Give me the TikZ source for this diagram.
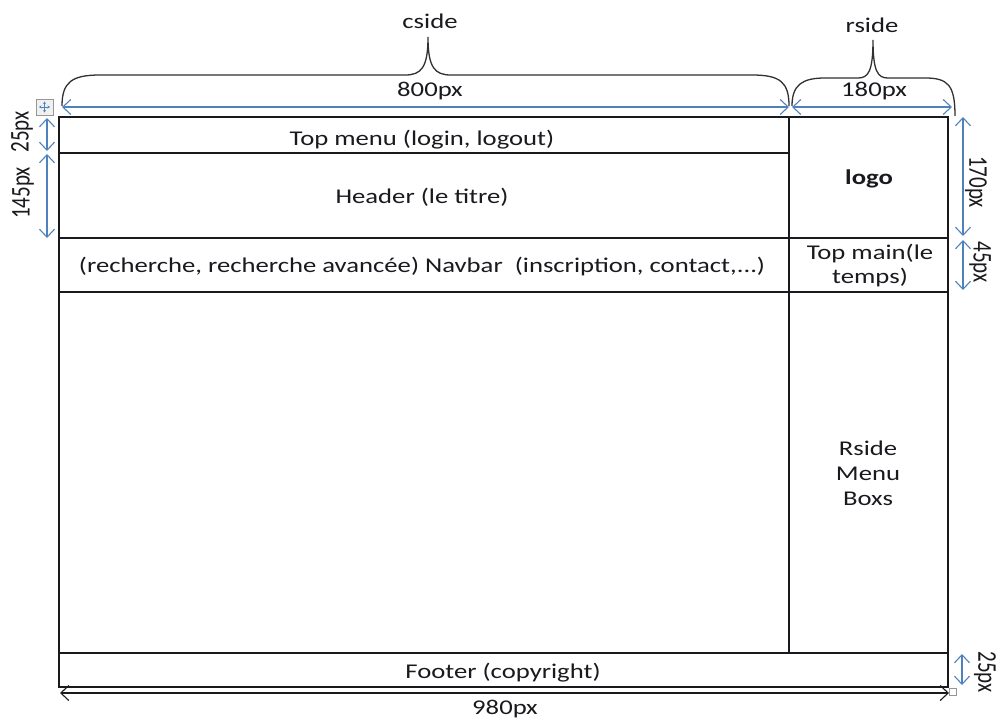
\documentclass[tikz,border=0pt]{standalone}
\usepackage{fontspec}
\setmainfont{Carlito}[FakeStretch=1.27]
\newfontfamily\sidefont{Carlito}[FakeStretch=0.78]
\usetikzlibrary{arrows.meta}
\definecolor{dimblue}{RGB}{79,129,189}
\definecolor{ink}{RGB}{25,25,30}
\definecolor{handle}{RGB}{150,150,150}
\tikzset{
  frame/.style={draw=ink, line width=1.3pt},
  dimline/.style={draw=dimblue, line width=1.1pt, {Straight Barb[length=8pt,width=15pt]}-{Straight Barb[length=8pt,width=15pt]}},
  blackdim/.style={draw=ink, line width=1.1pt, {Straight Barb[length=8pt,width=15pt]}-{Straight Barb[length=8pt,width=15pt]}},
  brace/.style={draw=ink!90, line width=1.3pt},
  lbl/.style={font=\fontsize{21}{24}\selectfont, text=ink, inner sep=0pt, anchor=base},
  sidelbl/.style={font=\sidefont\fontsize{27}{27}\selectfont, text=ink, inner sep=0pt},
}
\begin{document}
\begin{tikzpicture}[x=1pt,y=-1pt]
\useasboundingbox (0,0) rectangle (1001,720);

% layout frame
\draw[frame] (59,117) rectangle (948,687);
\draw[frame] (789,117) -- (789,653);
\draw[frame] (59,153) -- (789,153);
\draw[frame] (59,238) -- (948,238);
\draw[frame] (59,292) -- (948,292);
\draw[frame] (59,653) -- (948,653);

% region labels (multi-line nodes sit on the baseline of their last line)
\node[lbl] (topmenu) at (422,145) {Top menu (login, logout)};
\node[lbl] (header) at (422,203) {Header (le titre)};
\node[lbl] (navbar) at (422,272) {(recherche, recherche avancée) Navbar\ \ (inscription, contact,...)};
\node[lbl, font=\fontsize{21}{24}\selectfont\bfseries] (logo) at (869,184) {logo};
\node[lbl, align=center, font=\fontsize{21}{24}\selectfont] (topmain) at (870,283) {Top main(le\\temps)};
\node[lbl, align=center, font=\fontsize{21}{25}\selectfont] (rside) at (868,505) {Rside\\Menu\\Boxs};
\node[lbl] (footer) at (503,678) {Footer (copyright)};

% braces over the columns
\draw[brace] (62,106) .. controls (62,82) and (72,75) .. (100,75) -- (405,75)
  .. controls (421,75) and (428,68) .. (428,37)
  .. controls (428,68) and (435,75) .. (451,75) -- (752,75)
  .. controls (780,75) and (789,82) .. (789,106);
\draw[brace] (792,106) .. controls (792,85) and (802,78) .. (825,78) -- (858,78)
  .. controls (868,78) and (873,72) .. (873,40)
  .. controls (873,72) and (878,78) .. (888,78) -- (925,78)
  .. controls (948,78) and (955,85) .. (955,116);
\node[lbl] (cside) at (430,28) {cside};
\node[lbl] (rsidelbl) at (872,32) {rside};

% column widths
\coordinate (w1a) at (62,107);
\coordinate (w1b) at (789,107);
\coordinate (w2a) at (792,107);
\coordinate (w2b) at (952,107);
\draw[dimline] (w1a) -- (w1b);
\draw[dimline] (w2a) -- (w2b);
\node[lbl] (w800) at (430,96) {800px};
\node[lbl] (w180) at (874,96) {180px};

% row heights, left
\coordinate (h1a) at (47,118);
\coordinate (h1b) at (47,151);
\coordinate (h2a) at (47,154);
\coordinate (h2b) at (47,238);
\draw[dimline] (h1a) -- (h1b);
\draw[dimline] (h2a) -- (h2b);
\node[sidelbl, rotate=90] (h25) at (22,132) {25px};
\node[sidelbl, rotate=90] (h145) at (23,193) {145px};

% row heights, right
\coordinate (r1a) at (963,117);
\coordinate (r1b) at (963,236);
\coordinate (r2a) at (963,240);
\coordinate (r2b) at (963,290);
\coordinate (r3a) at (962,654);
\coordinate (r3b) at (962,685);
\draw[dimline] (r1a) -- (r1b);
\draw[dimline] (r2a) -- (r2b);
\draw[dimline] (r3a) -- (r3b);
\node[sidelbl, rotate=-90] (h170) at (976,182) {170px};
\node[sidelbl, rotate=-90] (h45) at (980,262) {45px};
\node[sidelbl, rotate=-90] (h25b) at (985,672) {25px};

% total width
\coordinate (ta) at (60,693);
\coordinate (tb) at (949,693);
\draw[blackdim] (ta) -- (tb);
\node[lbl] (w980) at (505,714) {980px};

% table handles
\draw[handle, fill=black!6, line width=0.8pt] (36,99) rectangle (53,115);
\draw[dimblue, line width=1pt, -{Stealth[length=2.5pt,width=3pt]}] (44.5,107) -- (39,107);
\draw[dimblue, line width=1pt, -{Stealth[length=2.5pt,width=3pt]}] (44.5,107) -- (50,107);
\draw[dimblue, line width=1pt, -{Stealth[length=2.5pt,width=3pt]}] (44.5,107) -- (44.5,101.5);
\draw[dimblue, line width=1pt, -{Stealth[length=2.5pt,width=3pt]}] (44.5,107) -- (44.5,112.5);
\draw[handle, fill=white, line width=0.8pt] (949,688) rectangle (956,695);
\end{tikzpicture}
\end{document}
